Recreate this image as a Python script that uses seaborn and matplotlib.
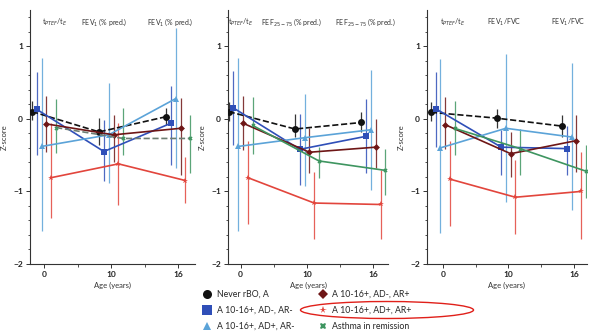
import numpy as np
import pandas as pd
import matplotlib
matplotlib.use("Agg")
import matplotlib.pyplot as plt
from matplotlib.lines import Line2D
from matplotlib.patches import Ellipse
import seaborn as sns

sns.set_theme(style="ticks")
plt.rcParams['font.family'] = ['Lato', 'DejaVu Sans']

# ---------------- data ----------------
ages = ["0", "10", "16"]
groups = ["Never rBO, A", "A 10-16+, AD-, AR-", "A 10-16+, AD+, AR-",
          "A 10-16+, AD-, AR+", "A 10-16+, AD+, AR+", "Asthma in remission"]
colors = ["#111111", "#2f4fb8", "#5ba3d8", "#6e1616", "#e2453c", "#3e9560"]
markers = ["o", "s", "^", "D", "*", "X"]
msizes = [5, 5, 4, 3.5, 4, 3]

panel_titles = [
    [r"t$_{PTEF}$/t$_E$", r"FEV$_1$ (% pred.)", r"FEV$_1$ (% pred.)"],
    [r"t$_{PTEF}$/t$_E$", r"FEF$_{25-75}$ (% pred.)", r"FEF$_{25-75}$ (% pred.)"],
    [r"t$_{PTEF}$/t$_E$", r"FEV$_1$/FVC", r"FEV$_1$/FVC"],
]

# mean z-scores per panel, per group (ages 0, 10, 16)
p1_mean = [[0.10, -0.18, 0.03], [0.13, -0.45, -0.06], [-0.38, -0.22, 0.28],
           [-0.07, -0.22, -0.13], [-0.81, -0.62, -0.85], [-0.12, -0.27, -0.27]]
p1_lo = [[-0.02, -0.36, -0.08], [-0.50, -0.86, -0.63], [-1.55, -0.89, -0.68],
         [-0.45, -0.60, -0.77], [-1.37, -1.19, -1.16], [-0.47, -0.50, -0.75]]
p1_hi = [[0.24, 0.01, 0.15], [0.64, -0.01, 0.45], [0.84, 0.49, 1.25],
         [0.31, 0.06, 0.29], [-0.06, -0.06, -0.52], [0.27, 0.15, 0.05]]

p2_mean = [[0.10, -0.14, -0.05], [0.15, -0.42, -0.24], [-0.38, -0.26, -0.15],
           [-0.06, -0.46, -0.39], [-0.81, -1.16, -1.18], [-0.09, -0.58, -0.71]]
p2_lo = [[-0.03, -0.25, -0.18], [-0.36, -0.91, -0.75], [-1.55, -0.93, -0.98],
         [-0.43, -0.75, -0.68], [-1.45, -1.66, -1.66], [-0.48, -0.82, -1.05]]
p2_hi = [[0.23, 0.07, 0.09], [0.66, 0.07, 0.27], [0.84, 0.34, 0.68],
         [0.32, -0.13, 0.00], [-0.30, -0.73, -0.70], [0.30, -0.39, -0.41]]

p3_mean = [[0.09, 0.01, -0.10], [0.14, -0.39, -0.41], [-0.40, -0.13, -0.25],
           [-0.08, -0.48, -0.30], [-0.83, -1.08, -1.00], [-0.13, -0.41, -0.72]]
p3_lo = [[-0.03, -0.13, -0.25], [-0.39, -0.77, -0.77], [-1.57, -1.14, -1.25],
         [-0.42, -0.80, -0.73], [-1.48, -1.59, -1.66], [-0.50, -0.77, -1.09]]
p3_hi = [[0.23, 0.14, 0.05], [0.64, -0.15, -0.10], [0.82, 0.89, 0.77],
         [0.30, -0.18, 0.05], [-0.30, -0.57, -0.45], [0.25, -0.14, -0.36]]

panels = [(p1_mean, p1_lo, p1_hi), (p2_mean, p2_lo, p2_hi), (p3_mean, p3_lo, p3_hi)]

# ---------------- layout ----------------
W, H = 589, 334
fig = plt.figure(figsize=(W / 100, H / 100), dpi=100)
boxes = [(30, 165), (228, 160), (427, 160)]
xlims = [(-0.21, 2.25), (-0.19, 2.22), (-0.24, 2.2)]
title_x = [[0.15, 0.45, 0.85], [0.08, 0.40, 0.86], [0.16, 0.48, 0.88]]
dodge = 0.072

for k, (mean, lo, hi) in enumerate(panels):
    left, width = boxes[k]
    ax = fig.add_axes([left / W, 1 - 264 / H, width / W, 254 / H])
    rows = []
    for gi, g in enumerate(groups):
        for ai, a in enumerate(ages):
            rows.append(dict(group=g, x=ai + (gi - 2.5) * dodge,
                             z=mean[gi][ai], lo=lo[gi][ai], hi=hi[gi][ai]))
    df = pd.DataFrame(rows)
    # error bars
    for gi, g in enumerate(groups):
        sub = df[df.group == g]
        ax.vlines(sub.x, sub.lo, sub.hi, colors=colors[gi], lw=0.9, alpha=0.85, zorder=1)
    for gi, g in enumerate(groups):
        sub = df[df.group == g]
        ls = "--" if (gi == 0 or (k == 0 and gi == 5)) else "-"
        lc = colors[gi] if not (k == 0 and gi == 5) else "#6d7d72"
        sns.lineplot(data=sub, x="x", y="z", ax=ax, color=lc, linestyle=ls,
                     lw=1.2, marker=markers[gi], markersize=msizes[gi],
                     markeredgewidth=0, markerfacecolor=colors[gi],
                     legend=False, zorder=3, sort=True)
    ax.set_xlim(*xlims[k])
    ax.set_ylim(-2, 1.5)
    ax.set_xticks(range(len(ages)))
    ax.set_xticklabels(ages)
    ax.set_xticks([0.5, 1.5], minor=True)
    ax.set_yticks([-2, -1, 0, 1])
    ax.set_yticks(np.arange(-2, 1.51, 0.2), minor=True)
    ax.tick_params(axis="both", which="major", labelsize=6, length=3, width=0.7,
                   pad=2, colors="#333333")
    ax.tick_params(axis="both", which="minor", length=1.8, width=0.6, colors="#333333")
    for lab in ax.get_xticklabels() + ax.get_yticklabels():
        lab.set_color("#222222")
        lab.set_fontweight("bold")
    ax.set_xlabel("Age (years)", fontsize=5.5, labelpad=3, color="#333333")
    ax.set_ylabel("Z-score", fontsize=5.5, labelpad=4, color="#333333")
    sns.despine(ax=ax)
    for s in ["left", "bottom"]:
        ax.spines[s].set_linewidth(0.8)
        ax.spines[s].set_color("#333333")
    ax.set_facecolor("white")
    for t, tx in zip(panel_titles[k], title_x[k]):
        ax.text(tx, 0.975, t, transform=ax.transAxes, ha="center", va="top",
                fontsize=5, color="#333333")

# ---------------- legend ----------------
handles = [Line2D([], [], linestyle="none", marker=m, color=c, markersize=s + 1.5,
                  markeredgewidth=0)
           for m, c, s in zip(markers, colors, msizes)]
fig.legend(handles, groups, ncol=2, loc="upper left",
           bbox_to_anchor=(203 / W, 1 - 290 / H), frameon=False, fontsize=6.3,
           handlelength=1.0, handletextpad=0.6, columnspacing=2.7,
           labelspacing=0.78, borderaxespad=0, borderpad=0)

ell = Ellipse((387 / W, 1 - 310 / H), 173 / W, 17 / H, transform=fig.transFigure,
              fill=False, edgecolor="#e0201a", lw=1.0)
fig.add_artist(ell)

fig.savefig("out.png", dpi=100, facecolor="white")
